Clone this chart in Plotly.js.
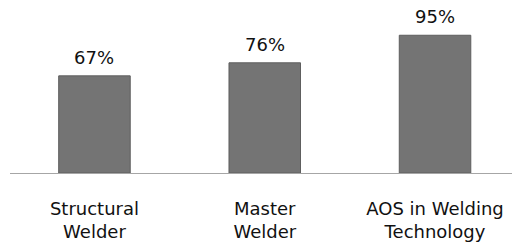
<!DOCTYPE html>
<html>
<head>
<meta charset="utf-8">
<script src="https://cdn.plot.ly/plotly-3.0.1.min.js"></script>
<style>html,body{margin:0;padding:0;background:#fff;}#chart{width:517px;height:243px;}</style>
</head>
<body>
<div id="chart"></div>
<script>
var categories = ["Structural<br>Welder", "Master<br>Welder", "AOS in Welding<br>Technology"];
var values = [67, 76, 95];
var valueLabels = ["67%", "76%", "95%"];

var idx = categories.map(function(_, i){ return i; });

var trace = {
  type: 'bar',
  x: idx,
  y: values,
  width: 0.42,
  marker: {
    color: '#747474',
    line: {color: '#5e5e5e', width: 1}
  },
  hoverinfo: 'skip'
};

var annotations = idx.map(function(i){
  return {
    x: i, y: values[i], xref: 'x', yref: 'y',
    text: valueLabels[i], showarrow: false,
    yanchor: 'bottom', yshift: 6,
    font: {family: 'DejaVu Sans', size: 18, color: '#111'}
  };
});

var layout = {
  width: 517, height: 243,
  margin: {l: 10, r: 5, t: 28, b: 70},
  paper_bgcolor: '#fff', plot_bgcolor: '#fff',
  showlegend: false,
  xaxis: {
    range: [-0.496, 2.452],
    tickmode: 'array', tickvals: idx, ticktext: categories,
    showline: true, linecolor: '#a6a6a6', linewidth: 1,
    showgrid: false, zeroline: false, ticks: '',
    ticklabelstandoff: 19,
    tickfont: {family: 'DejaVu Sans', size: 18, color: '#111'}
  },
  yaxis: {
    range: [0, 100], visible: false, showgrid: false, zeroline: false
  },
  annotations: annotations
};

Plotly.newPlot('chart', [trace], layout, {displayModeBar: false, staticPlot: true});
</script>
</body>
</html>
